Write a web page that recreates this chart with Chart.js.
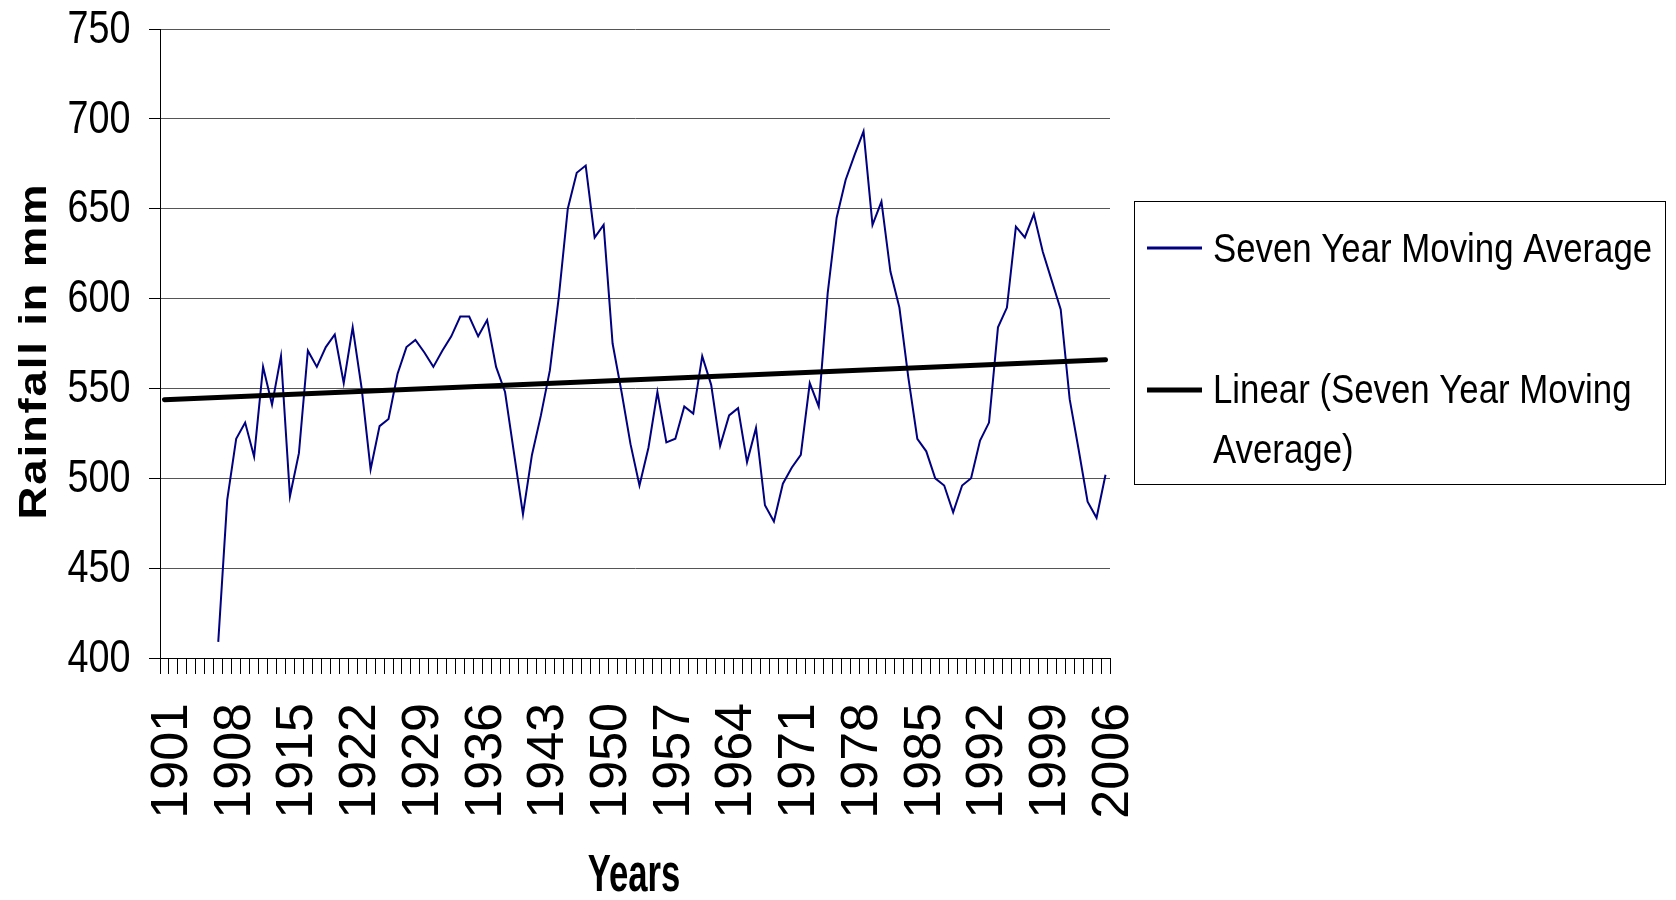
<!DOCTYPE html>
<html>
<head>
<meta charset="utf-8">
<script src="https://cdn.jsdelivr.net/npm/chart.js@4.4.1/dist/chart.umd.min.js"></script>
<style>
  html, body { margin: 0; padding: 0; background: #fff; }
  #wrap { position: relative; width: 1676px; height: 900px; }
</style>
</head>
<body>
<div id="wrap"><canvas id="rainfall-chart"></canvas></div>
<script>
// categories: every year 1901 - 2006
const years = Array.from({ length: 106 }, (_, i) => String(1901 + i));

// only every 7th year gets a label
const shownYears = [
  "1901", "1908", "1915", "1922", "1929", "1936", "1943", "1950",
  "1957", "1964", "1971", "1978", "1985", "1992", "1999", "2006",
];

// seven year moving average, first value at 1907
const movingAverage = [
  null, null, null, null, null, null,
  409, 488, 522, 531, 512, 562, 541, 568, 490, 514, // 1907-1916
  571, 562, 573, 580, 553, 584, 550, 505, 529, 533, // 1917-1926
  558, 573, 577, 570, 562, 571, 579, 590, 590, 579, // 1927-1936
  588, 562, 548, 514, 480, 513, 535, 560, 601, 650, // 1937-1946
  670, 674, 634, 641, 575, 548, 519, 496, 517, 548, // 1947-1956
  520, 522, 540, 536, 568, 552, 518, 535, 539, 509, // 1957-1966
  528, 485, 476, 497, 506, 513, 553, 540, 603, 645, // 1967-1976
  666, 680, 693, 641, 654, 615, 595, 556, 522, 515, // 1977-1986
  500, 496, 481, 496, 500, 521, 531, 584, 595, 640, // 1987-1996
  634, 647, 626, 610, 594, 544, 516, 487, 478, 502, // 1997-2006
];

// linear trend of the moving average, first and last year
const trendStart = 543.7;
const trendEnd = 566.0;
const trendLine = years.map((y, i) =>
  i === 0 ? trendStart : i === years.length - 1 ? trendEnd : null
);

const yMin = 400;
const yMax = 750;
const yStep = 50;

const FONT = '"Liberation Sans", Arial, sans-serif';

// y tick labels (narrowed), legend box, axis titles
const extraText = {
  id: "extraText",
  afterDraw(chart) {
    const ctx = chart.ctx;
    const yScale = chart.scales.y;
    ctx.save();
    ctx.fillStyle = "#000";

    // y tick labels
    ctx.font = "46px " + FONT;
    ctx.textAlign = "right";
    ctx.textBaseline = "middle";
    yScale.ticks.forEach((t) => {
      ctx.save();
      ctx.translate(130.5, yScale.getPixelForValue(t.value) + 1);
      ctx.scale(0.82, 1);
      ctx.fillText(String(t.value), 0, 0);
      ctx.restore();
    });

    // y title
    ctx.save();
    ctx.translate(46, 351);
    ctx.rotate(-Math.PI / 2);
    ctx.scale(1.2, 1);
    ctx.font = "bold 38px " + FONT;
    ctx.letterSpacing = "1.5px";
    ctx.textAlign = "center";
    ctx.textBaseline = "alphabetic";
    ctx.fillText("Rainfall in mm", 0, 0);
    ctx.restore();

    // x title
    ctx.save();
    ctx.translate(634, 891);
    ctx.scale(0.68, 1);
    ctx.font = "bold 51px " + FONT;
    ctx.textAlign = "center";
    ctx.textBaseline = "alphabetic";
    ctx.fillText("Years", 0, 0);
    ctx.restore();

    // legend
    ctx.strokeStyle = "#000";
    ctx.lineWidth = 1;
    ctx.strokeRect(1134.5, 201.5, 531, 283);

    ctx.lineCap = "butt";
    ctx.strokeStyle = "#000080";
    ctx.lineWidth = 3;
    ctx.beginPath();
    ctx.moveTo(1147, 248);
    ctx.lineTo(1202, 248);
    ctx.stroke();

    ctx.strokeStyle = "#000";
    ctx.lineWidth = 5;
    ctx.beginPath();
    ctx.moveTo(1147, 390);
    ctx.lineTo(1202, 390);
    ctx.stroke();

    const rows = [
      ["Seven Year Moving Average", 262],
      ["Linear (Seven Year Moving", 403],
      ["Average)", 463],
    ];
    ctx.font = "40px " + FONT;
    ctx.textAlign = "left";
    ctx.textBaseline = "alphabetic";
    rows.forEach(([text, base]) => {
      ctx.save();
      ctx.translate(1213, base);
      ctx.scale(0.87, 1);
      ctx.fillText(text, 0, 0);
      ctx.restore();
    });

    ctx.restore();
  },
};

const ctx = document.getElementById("rainfall-chart").getContext("2d");
new Chart(ctx, {
  type: "line",
  data: {
    labels: years,
    datasets: [
      {
        label: "Seven Year Moving Average",
        data: movingAverage,
        borderColor: "#000080",
        backgroundColor: "#000080",
        borderWidth: 2,
        pointRadius: 0,
        tension: 0,
        fill: false,
        order: 1,
      },
      {
        label: "Linear (Seven Year Moving Average)",
        data: trendLine,
        borderColor: "#000",
        backgroundColor: "#000",
        borderWidth: 5,
        borderCapStyle: "round",
        pointRadius: 0,
        spanGaps: true,
        fill: false,
        order: 0,
      },
    ],
  },
  options: {
    responsive: true,
    maintainAspectRatio: false,
    animation: false,
    layout: { padding: { top: 29, right: 566, left: 0, bottom: 0 } },
    plugins: {
      legend: { display: false },
      tooltip: { enabled: false },
    },
    scales: {
      x: {
        type: "category",
        offset: true,
        afterFit: (scale) => { scale.height = 242; },
        grid: {
          display: true,
          drawOnChartArea: false,
          drawTicks: true,
          tickLength: 16,
          offset: true,
          color: "#000",
          lineWidth: 1,
        },
        border: { display: true, color: "#000", width: 1 },
        ticks: {
          autoSkip: false,
          minRotation: 90,
          maxRotation: 90,
          padding: 29,
          labelOffset: 8,
          color: "#000",
          font: { family: FONT, size: 52 },
          callback: (value, i) => (shownYears.includes(years[i]) ? years[i] : ""),
        },
        title: { display: false },
      },
      y: {
        min: yMin,
        max: yMax,
        afterFit: (scale) => { scale.width = 160; },
        grid: {
          color: "#555",
          lineWidth: 1,
          tickColor: "#000",
          tickLength: 11,
        },
        border: { display: true, color: "#000", width: 1 },
        ticks: {
          display: false,
          stepSize: yStep,
        },
        title: { display: false },
      },
    },
  },
  plugins: [extraText],
});
</script>
</body>
</html>
